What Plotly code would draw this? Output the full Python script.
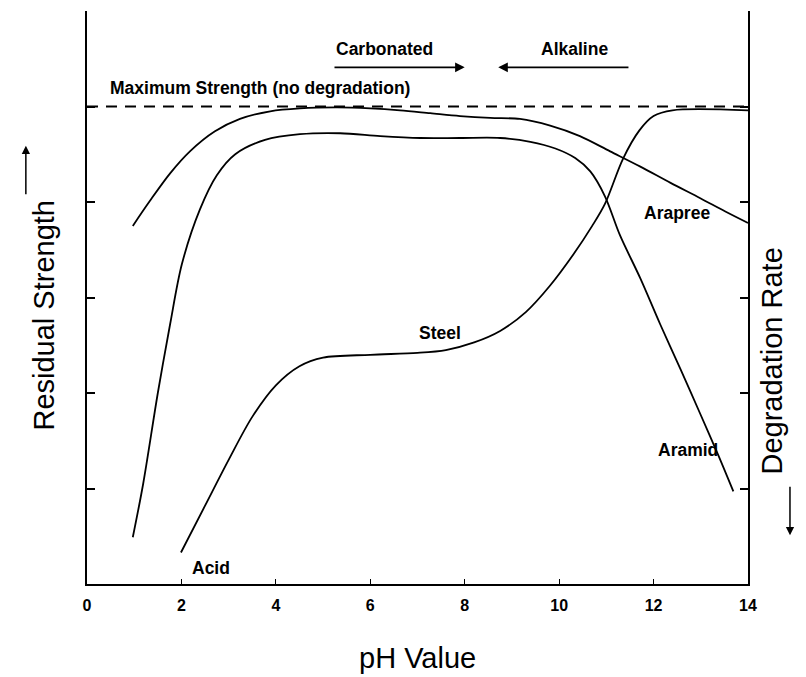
import plotly.graph_objects as go

# ---- data (pH vs. relative residual strength level; axis units 0..6) ----
ph_arapree = [0.97, 1.33, 1.76, 2.18, 2.71, 3.24, 3.88, 4.51, 5.3, 6.0, 6.63, 7.27, 7.9, 8.54, 9.17, 9.81, 10.44, 11.08, 11.72, 12.36, 12.99, 13.52, 14.0]
res_arapree = [3.75, 4.01, 4.30, 4.53, 4.74, 4.87, 4.95, 4.98, 4.99, 4.98, 4.96, 4.93, 4.90, 4.88, 4.87, 4.80, 4.69, 4.53, 4.37, 4.20, 4.04, 3.90, 3.78]

ph_aramid = [0.97, 1.19, 1.5, 1.76, 2.01, 2.39, 2.75, 3.14, 3.77, 4.51, 5.36, 6.21, 7.06, 7.9, 8.75, 9.39, 9.92, 10.34, 10.66, 10.97, 11.29, 11.72, 12.14, 12.57, 12.99, 13.37, 13.69]
res_aramid = [0.49, 1.05, 2.00, 2.72, 3.35, 3.92, 4.28, 4.50, 4.65, 4.71, 4.72, 4.69, 4.67, 4.67, 4.67, 4.63, 4.56, 4.46, 4.32, 4.06, 3.65, 3.20, 2.72, 2.25, 1.78, 1.35, 0.97]

ph_steel = [1.99, 2.5, 3.0, 3.5, 4.0, 4.5, 5.0, 6.0, 7.0, 7.6, 8.2, 8.75, 9.3, 9.8, 10.3, 10.7, 10.97, 11.35, 11.7, 12.0, 12.4, 14.0]
res_steel = [0.33, 0.82, 1.30, 1.75, 2.08, 2.28, 2.37, 2.40, 2.42, 2.45, 2.53, 2.65, 2.85, 3.12, 3.45, 3.75, 3.98, 4.45, 4.75, 4.90, 4.96, 4.96]

ph_max = [0, 14]
res_max = [5.0, 5.0]

x_ticks = [0, 2, 4, 6, 8, 10, 12, 14]
x_tick_text = ["0", "2", "4", "6", "8", "10", "12", "14"]
y_ticks = [1, 2, 3, 4, 5, 5.99]

FONT = "Liberation Sans, Arial, Helvetica, sans-serif"
line_style = dict(color="black", width=1.8, shape="spline", smoothing=0.9)

fig = go.Figure()
fig.add_trace(go.Scatter(x=ph_max, y=res_max, mode="lines",
                         line=dict(color="black", width=2, dash="11px,8px")))
fig.add_trace(go.Scatter(x=ph_arapree, y=res_arapree, mode="lines", line=line_style))
fig.add_trace(go.Scatter(x=ph_aramid, y=res_aramid, mode="lines", line=line_style))
fig.add_trace(go.Scatter(x=ph_steel, y=res_steel, mode="lines", line=line_style))

ann_font = dict(family=FONT, size=17.5, color="black", weight="bold")
labels = [
    ("Maximum Strength (no degradation)", 0.44, 5.19, "left"),
    ("Carbonated", 6.31, 5.6, "center"),
    ("Alkaline", 10.32, 5.6, "center"),
    ("Steel", 7.48, 2.63, "center"),
    ("Arapree", 12.5, 3.88, "center"),
    ("Aramid", 12.73, 1.4, "center"),
    ("Acid", 2.63, 0.17, "center"),
]
for txt, x, y, xa in labels:
    fig.add_annotation(x=x, y=y, xref="x", yref="y", text=txt, showarrow=False,
                       xanchor=xa, yanchor="middle", font=ann_font)

# direction arrows
fig.add_annotation(x=8.0, y=5.41, ax=5.21, ay=5.41, xref="x", yref="y", axref="x", ayref="y",
                   text="", showarrow=True, arrowhead=2, arrowsize=1.2, arrowwidth=1.6, arrowcolor="black")
fig.add_annotation(x=8.71, y=5.41, ax=11.5, ay=5.41, xref="x", yref="y", axref="x", ayref="y",
                   text="", showarrow=True, arrowhead=2, arrowsize=1.2, arrowwidth=1.6, arrowcolor="black")

# axis titles (paper coords: plot area spans px 87..748 horizontally, 11..584 vertically)
title_font = dict(family=FONT, size=29, color="black")
fig.add_annotation(x=-0.0925, y=0.47, xref="paper", yref="paper", text="Residual Strength",
                   textangle=-90, showarrow=False, font=title_font)
fig.add_annotation(x=-0.0925, y=0.765, xref="paper", yref="paper", text="", showarrow=True,
                   ax=0, ay=50, arrowhead=2, arrowsize=1.1, arrowwidth=1.5, arrowcolor="black")
fig.add_annotation(x=1.0635, y=0.39, xref="paper", yref="paper", text="Degradation Rate",
                   textangle=-90, showarrow=False, font=title_font)
fig.add_annotation(x=1.0635, y=0.085, xref="paper", yref="paper", text="", showarrow=True,
                   ax=0, ay=-50, arrowhead=2, arrowsize=1.1, arrowwidth=1.5, arrowcolor="black")
fig.add_annotation(x=0.5, y=-0.13, xref="paper", yref="paper", text="pH Value",
                   showarrow=False, yanchor="middle", font=title_font)

fig.update_xaxes(range=[0, 14], tickvals=x_ticks, ticktext=x_tick_text,
                 showline=True, linecolor="black", linewidth=2, mirror=False,
                 ticks="inside", ticklen=5, tickwidth=1.2, tickcolor="black",
                 ticklabelstandoff=6,
                 showgrid=False, zeroline=False,
                 tickfont=dict(family=FONT, size=16, color="black", weight="bold"))
fig.update_yaxes(range=[0, 6], tickvals=y_ticks, showticklabels=False,
                 showline=True, linecolor="black", linewidth=2, mirror="ticks",
                 ticks="inside", ticklen=8, tickwidth=1.5, tickcolor="black",
                 showgrid=False, zeroline=False)

fig.update_layout(width=806, height=677, margin=dict(l=87, r=58, t=11, b=93),
                  paper_bgcolor="white", plot_bgcolor="white", showlegend=False,
                  font=dict(family=FONT, color="black"))

fig.write_html("out.html")
